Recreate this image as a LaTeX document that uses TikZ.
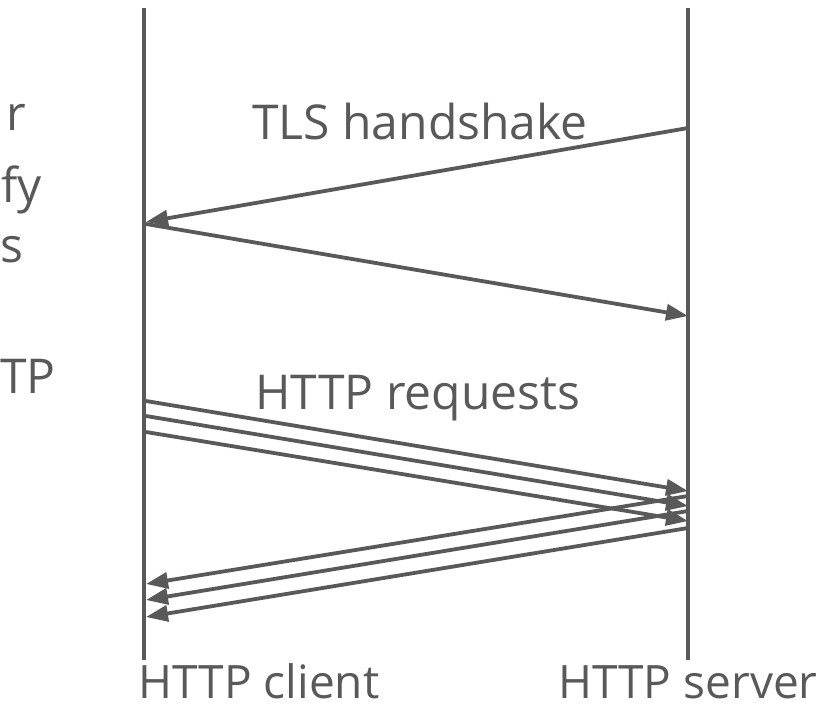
\documentclass[tikz,border=0pt]{standalone}
\usepackage{fontspec}
\setmainfont{Open Sans}
\usetikzlibrary{arrows.meta}
\definecolor{ink}{HTML}{595959}
\begin{document}
\begin{tikzpicture}[x=1pt,y=-1pt,
  life/.style={draw=ink,line width=3.8pt},
  msg/.style={draw=ink,line width=3.8pt,-{Triangle[length=22pt,width=16pt]}},
  lbl/.style={text=ink,font=\fontsize{48}{56}\selectfont,inner sep=0pt,anchor=base},
  endlbl/.style={lbl,font=\fontsize{46}{54}\selectfont}]
\useasboundingbox (0,0) rectangle (834,710);
% lifelines
\coordinate (ct) at (144,8);
\coordinate (cb) at (144,660);
\coordinate (st) at (688,8);
\coordinate (sb) at (688,660);
\draw[life] (ct) -- (cb);
\draw[life] (st) -- (sb);
% TLS handshake
\coordinate (s1) at (688,128);
\coordinate (c1) at (146,222);
\coordinate (c2) at (146,224);
\coordinate (s2) at (688,316);
\draw[msg] (s1) -- (c1);
\draw[msg] (c2) -- (s2);
% HTTP requests
\coordinate (rq1) at (146,401);
\coordinate (rq2) at (146,416);
\coordinate (rq3) at (146,432);
\coordinate (rqe1) at (688,491);
\coordinate (rqe2) at (688,506);
\coordinate (rqe3) at (688,521);
\draw[msg] (rq1) -- (rqe1);
\draw[msg] (rq2) -- (rqe2);
\draw[msg] (rq3) -- (rqe3);
% responses
\coordinate (rs1) at (688,496);
\coordinate (rs2) at (688,511);
\coordinate (rs3) at (688,528);
\coordinate (rse1) at (146,584);
\coordinate (rse2) at (146,600);
\coordinate (rse3) at (146,617);
\draw[msg] (rs1) -- (rse1);
\draw[msg] (rs2) -- (rse2);
\draw[msg] (rs3) -- (rse3);
% labels
\node[lbl] (tls) at (420,139) {TLS handshake};
\node[lbl] (req) at (418,409) {HTTP requests};
\node[endlbl] (cli) at (259,698) {HTTP client};
\node[endlbl] (srv) at (688,698) {HTTP server};
% cut-off fragments at the left edge
\node[lbl,anchor=base east] (f1) at (26,130) {r};
\node[lbl,anchor=base east] (f2) at (42,202) {fy};
\node[lbl,anchor=base west] (f3) at (0,262) {s};
\node[lbl,anchor=base west] (f4) at (0,393) {TP};
\end{tikzpicture}
\end{document}
